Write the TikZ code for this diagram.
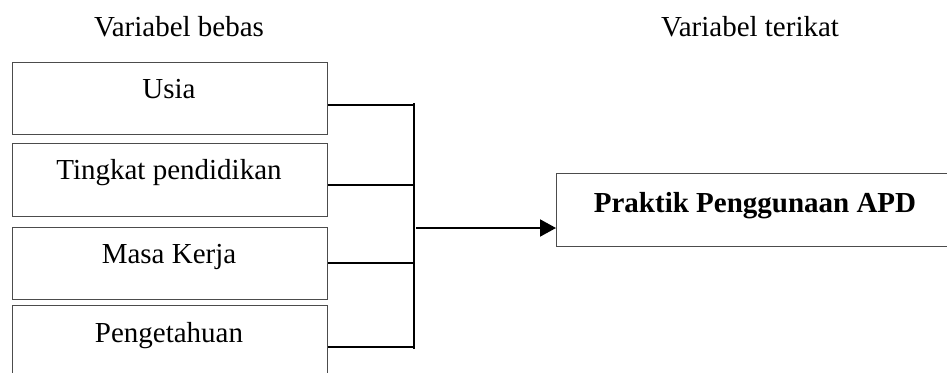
\documentclass[tikz,border=0pt]{standalone}
\usepackage{fontspec}
\setmainfont{Liberation Serif}
\usetikzlibrary{arrows.meta}
\begin{document}
\begin{tikzpicture}[x=1pt,y=-1pt,
  box/.style={draw=black!70,line width=1.1pt,rectangle,inner sep=0pt,anchor=north west},
  lbl/.style={inner sep=0pt,anchor=base,font=\fontsize{29}{34}\selectfont},
  conn/.style={line width=2.4pt,black},
  arr/.style={line width=2pt,black,-{Triangle[length=16pt,width=17pt]}}]
\useasboundingbox (0,0) rectangle (947,372);
\clip (0,0) rectangle (947,372);
% titles
\node[lbl] (t1) at (179,36) {Variabel bebas};
\node[lbl] (t2) at (750,36) {Variabel terikat};
% left boxes
\node[box,minimum width=315pt,minimum height=72.6pt] (b1) at (11.7,61.7) {};
\node[box,minimum width=315pt,minimum height=72.7pt] (b2) at (11.7,143.3) {};
\node[box,minimum width=315pt,minimum height=72.6pt] (b3) at (11.7,226.7) {};
\node[box,minimum width=315pt,minimum height=90pt] (b4) at (11.7,305) {};
\node[lbl] (l1) at (169,98) {Usia};
\node[lbl] (l2) at (169,179) {Tingkat pendidikan};
\node[lbl] (l3) at (169,263) {Masa Kerja};
\node[lbl] (l4) at (169,342) {Pengetahuan};
% right box
\node[box,minimum width=400pt,minimum height=73pt] (r) at (556,173) {};
\node[lbl] (rl) at (755,212) {\bfseries Praktik Penggunaan APD};
% connectors
\coordinate (j1) at (414,105);
\coordinate (j2) at (414,185);
\coordinate (j3) at (414,263);
\coordinate (j4) at (414,347);
\coordinate (js) at (416,228);
\draw[conn] (b1.east |- j1) -- (j1);
\draw[conn,line width=1.8pt] (b2.east |- j2) -- (j2);
\draw[conn] (b3.east |- j3) -- (j3);
\draw[conn,line width=1.8pt] (b4.east |- j4) -- (j4);
\draw[conn,line width=2pt] (414,103) -- (414,349);
\draw[arr] (js) -- (r.west |- js);
\end{tikzpicture}
\end{document}
